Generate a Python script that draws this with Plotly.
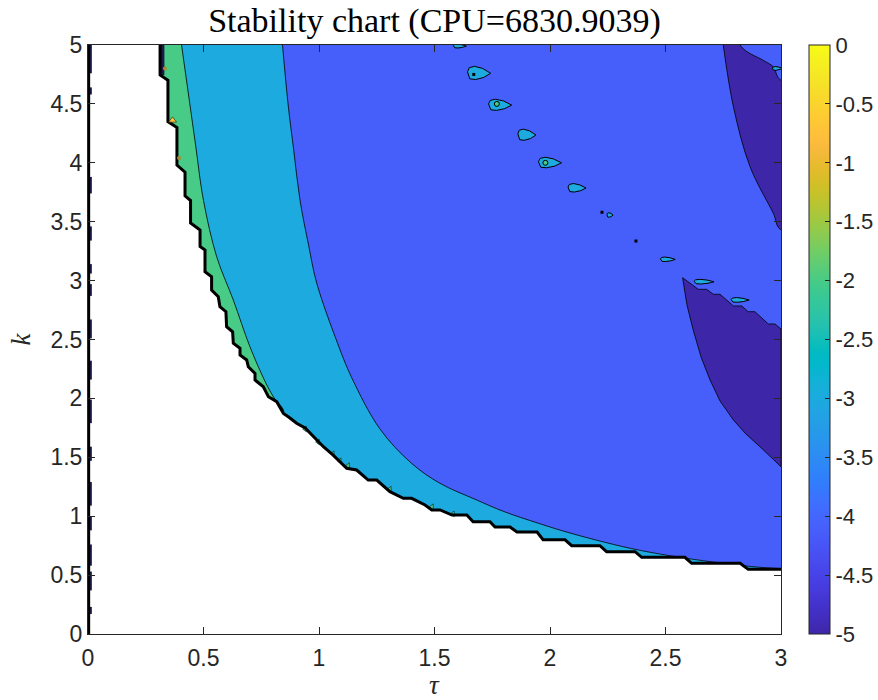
import plotly.graph_objects as go

# ---------------- data ----------------
# stability boundary (edge of the white, unstable area), staircase as drawn
stab_tau = [0.312, 0.312, 0.346, 0.346, 0.385, 0.385, 0.42, 0.42, 0.444, 0.444, 0.485, 0.485,
            0.5065, 0.5065, 0.535, 0.535, 0.564, 0.571, 0.597, 0.600, 0.626, 0.629, 0.658, 0.658,
            0.687, 0.694, 0.723, 0.723, 0.759, 0.781, 0.817, 0.846, 0.87, 0.903, 0.94, 0.975,
            1.019, 1.06, 1.09, 1.12, 1.163, 1.213, 1.25, 1.307, 1.365, 1.401, 1.459, 1.488,
            1.524, 1.576, 1.64, 1.667, 1.74, 1.762, 1.827, 1.857, 1.944, 1.97, 2.065, 2.094,
            2.216, 2.245, 2.368, 2.397, 2.584, 2.613, 2.823, 2.858, 3.0]
stab_k = [5.0, 4.745, 4.70, 4.35, 4.30, 3.98, 3.92, 3.72, 3.68, 3.49, 3.43, 3.29,
          3.26, 3.076, 3.033, 2.92, 2.863, 2.778, 2.736, 2.609, 2.566, 2.468, 2.425, 2.368,
          2.326, 2.269, 2.213, 2.156, 2.099, 2.014, 1.972, 1.873, 1.84, 1.789, 1.75, 1.675,
          1.59, 1.52, 1.46, 1.407, 1.392, 1.307, 1.307, 1.208, 1.152, 1.152, 1.095, 1.053,
          1.053, 1.01, 1.01, 0.953, 0.953, 0.908, 0.908, 0.866, 0.866, 0.80, 0.80, 0.750,
          0.750, 0.699, 0.699, 0.651, 0.651, 0.600, 0.600, 0.549, 0.549]

# contour between the green (-2) and teal (-3) bands
gt_tau = [0.405, 0.463, 0.50, 0.557, 0.629, 0.701, 0.774, 0.81, 0.846]
gt_k = [5.0, 4.19, 3.68, 3.203, 2.835, 2.439, 2.114, 1.99, 1.88]

# contour between the teal (-3) and blue (-4.1) bands
tb_tau = [0.842, 0.866, 0.891, 0.918, 0.955, 0.99, 1.08, 1.143, 1.264, 1.40, 1.524, 1.68,
          1.80, 1.95, 2.10, 2.39, 2.75, 3.0]
tb_k = [5.0, 4.5, 4.1, 3.68, 3.3, 2.98, 2.47, 2.17, 1.74, 1.45, 1.279, 1.14,
        1.04, 0.94, 0.85, 0.71, 0.60, 0.555]

# dark blue (-5) regions
dark1_left_tau = [2.75, 2.794, 2.866, 2.967, 3.0]
dark1_left_k = [5.0, 4.476, 3.967, 3.57, 3.43]
dark1_right_tau = [3.0, 2.966, 2.923, 2.823]
dark1_right_k = [4.70, 4.816, 4.87, 5.0]
dark2_top_tau = [2.574, 2.642, 2.678, 2.707, 2.736, 2.794, 2.83, 2.858, 2.887, 2.945, 2.974, 3.0]
dark2_top_k = [3.025, 2.926, 2.926, 2.884, 2.884, 2.785, 2.785, 2.736, 2.736, 2.632, 2.632, 2.589]
dark2_low_tau = [3.0, 2.957, 2.909, 2.848, 2.794, 2.736, 2.693, 2.654, 2.62, 2.593, 2.574]
dark2_low_k = [1.42, 1.503, 1.59, 1.698, 1.817, 1.978, 2.156, 2.351, 2.58, 2.793, 3.025]

# small teal islands inside the blue band (centre, half width, half height)
isl_tau = [1.61, 1.693, 1.784, 1.90, 2.0, 2.117, 2.26, 2.51, 2.667, 2.823, 2.985]
isl_k = [4.99, 4.76, 4.49, 4.236, 4.0, 3.786, 3.556, 3.18, 2.99, 2.835, 4.80]
isl_hw = [0.028, 0.050, 0.050, 0.039, 0.050, 0.039, 0.013, 0.032, 0.043, 0.039, 0.022]
isl_hh = [0.017, 0.059, 0.050, 0.050, 0.047, 0.038, 0.020, 0.020, 0.021, 0.021, 0.017]

# tiny green loops
loop_tau = [1.77, 1.98]
loop_k = [4.50, 4.00]
# tiny green slivers along the stability boundary
sliv_tau = [0.94, 0.996, 1.06, 1.09, 1.126, 1.307, 1.489, 1.58]
sliv_k = [1.74, 1.63, 1.53, 1.47, 1.43, 1.23, 1.08, 1.02]
# tiny dark specks
speck_tau = [2.225, 2.372, 1.67]
speck_k = [3.58, 3.336, 4.75]

# thin strip at tau = 0 : dark bulges (centre k, half height)
edge_k = [4.88, 4.61, 3.81, 3.40, 3.10, 2.92, 2.59, 2.24, 1.89, 1.53, 1.19, 0.94, 0.67, 0.45, 0.20]
edge_h = [0.12, 0.03, 0.07, 0.06, 0.04, 0.05, 0.08, 0.08, 0.10, 0.06, 0.10, 0.06, 0.09, 0.08, 0.03]

# region levels (colour values on the colour bar)
level_green = -2.0
level_teal = -3.0
level_blue = -4.1
level_dark = -5.0
level_orange = -0.75

x_ticks = [0, 0.5, 1, 1.5, 2, 2.5, 3]
x_labels = ["0", "0.5", "1", "1.5", "2", "2.5", "3"]
y_ticks = [0, 0.5, 1, 1.5, 2, 2.5, 3, 3.5, 4, 4.5, 5]
y_labels = ["0", "0.5", "1", "1.5", "2", "2.5", "3", "3.5", "4", "4.5", "5"]
cb_ticks = [0, -0.5, -1, -1.5, -2, -2.5, -3, -3.5, -4, -4.5, -5]
cb_labels = ["0", "-0.5", "-1", "-1.5", "-2", "-2.5", "-3", "-3.5", "-4", "-4.5", "-5"]
cmin, cmax = -5.0, 0.0
x_range = [0, 3]
y_range = [0, 5]

title_text = "Stability chart (CPU=6830.9039)"

# ---------------- parula colour map ----------------
PARULA = [
    (0.2422, 0.1504, 0.6603), (0.2504, 0.1650, 0.7076), (0.2578, 0.1818, 0.7511), (0.2647, 0.1978, 0.7952),
    (0.2706, 0.2147, 0.8364), (0.2751, 0.2342, 0.8710), (0.2783, 0.2559, 0.8991), (0.2803, 0.2782, 0.9221),
    (0.2813, 0.3006, 0.9414), (0.2810, 0.3228, 0.9579), (0.2795, 0.3447, 0.9717), (0.2760, 0.3667, 0.9829),
    (0.2699, 0.3892, 0.9906), (0.2602, 0.4123, 0.9952), (0.2440, 0.4358, 0.9988), (0.2206, 0.4603, 0.9973),
    (0.1963, 0.4847, 0.9892), (0.1834, 0.5074, 0.9798), (0.1786, 0.5289, 0.9682), (0.1764, 0.5499, 0.9520),
    (0.1687, 0.5703, 0.9359), (0.1540, 0.5902, 0.9218), (0.1460, 0.6091, 0.9079), (0.1380, 0.6276, 0.8973),
    (0.1248, 0.6459, 0.8883), (0.1113, 0.6635, 0.8763), (0.0952, 0.6798, 0.8598), (0.0689, 0.6948, 0.8394),
    (0.0297, 0.7082, 0.8163), (0.0036, 0.7199, 0.7917), (0.0067, 0.7300, 0.7659), (0.0433, 0.7394, 0.7384),
    (0.0964, 0.7500, 0.7120), (0.1408, 0.7584, 0.6842), (0.1717, 0.7670, 0.6554), (0.1938, 0.7758, 0.6251),
    (0.2161, 0.7843, 0.5923), (0.2470, 0.7918, 0.5567), (0.2906, 0.7973, 0.5188), (0.3406, 0.8008, 0.4789),
    (0.3909, 0.8029, 0.4354), (0.4456, 0.8024, 0.3909), (0.5044, 0.7993, 0.3480), (0.5616, 0.7942, 0.3045),
    (0.6174, 0.7876, 0.2612), (0.6720, 0.7793, 0.2227), (0.7242, 0.7698, 0.1910), (0.7738, 0.7598, 0.1646),
    (0.8203, 0.7498, 0.1535), (0.8634, 0.7406, 0.1596), (0.9035, 0.7330, 0.1774), (0.9393, 0.7288, 0.2100),
    (0.9728, 0.7298, 0.2394), (0.9956, 0.7434, 0.2371), (0.9970, 0.7659, 0.2199), (0.9952, 0.7893, 0.2028),
    (0.9892, 0.8136, 0.1885), (0.9786, 0.8386, 0.1766), (0.9676, 0.8639, 0.1643), (0.9610, 0.8890, 0.1537),
    (0.9597, 0.9135, 0.1423), (0.9628, 0.9373, 0.1265), (0.9691, 0.9606, 0.1064), (0.9769, 0.9839, 0.0805),
]


def to_rgb(c):
    return "rgb(%d,%d,%d)" % tuple(round(255 * v) for v in c)


def parula_at(value):
    f = (value - cmin) / (cmax - cmin)
    f = min(max(f, 0.0), 1.0) * (len(PARULA) - 1)
    i = min(int(f), len(PARULA) - 2)
    t = f - i
    a, b = PARULA[i], PARULA[i + 1]
    return to_rgb(tuple(a[j] + (b[j] - a[j]) * t for j in range(3)))


colorscale = [[i / (len(PARULA) - 1), to_rgb(c)] for i, c in enumerate(PARULA)]

c_green = parula_at(level_green)
c_teal = parula_at(level_teal)
c_blue = parula_at(level_blue)
c_dark = parula_at(level_dark)
c_orange = parula_at(level_orange)

EDGE = "rgb(0,0,0)"
AX = "#262626"
NAVY = "#1b1a4a"

# off-plot helpers so polygons can be closed outside the visible area
XO = x_range[1] + 0.4   # beyond the right edge
YO = y_range[1] + 0.4   # beyond the top edge


def poly(xs, ys, fill, lw=0.8, lc=EDGE, shape="linear"):
    return go.Scatter(x=xs, y=ys, mode="lines", fill="toself", fillcolor=fill,
                      line=dict(width=lw, color=lc, shape=shape, smoothing=1.0),
                      hoverinfo="skip", showlegend=False)


fig = go.Figure()

# teal: everything stable (right of the stability boundary)
fig.add_trace(poly(stab_tau + [XO, XO, stab_tau[0]], stab_k + [stab_k[-1], YO, YO], c_teal, lw=0))
# green band
fig.add_trace(poly(gt_tau + [0.2, 0.2, gt_tau[0]], gt_k + [gt_k[-1] - 0.3, YO, YO], c_green, shape="spline"))
# blue band
fig.add_trace(poly(tb_tau + [XO, XO, tb_tau[0]], tb_k + [tb_k[-1], YO, YO], c_blue, shape="spline"))
# dark blue regions
fig.add_trace(poly(dark1_left_tau + [XO, XO] + dark1_right_tau + [dark1_right_tau[-1] - 0.02, dark1_left_tau[0]],
                   dark1_left_k + [dark1_left_k[-1] - 0.1, dark1_right_k[0] - 0.1] + dark1_right_k + [YO, YO],
                   c_dark, shape="spline"))
fig.add_trace(poly(dark2_top_tau + dark2_low_tau, dark2_top_k + dark2_low_k, c_dark))

# teal islands (teardrop outline scaled around each centre)
tpl_u = [-1.0, -0.85, -0.4, 0.3, 1.0, 0.4, -0.3, -0.8, -1.0]
tpl_v = [0.2, 0.8, 1.0, 0.7, 0.0, -0.6, -0.9, -0.8, 0.2]
ix, iy = [], []
for cx, cy, hw, hh in zip(isl_tau, isl_k, isl_hw, isl_hh):
    ix += [cx + u * hw for u in tpl_u] + [None]
    iy += [cy + v * hh for v in tpl_v] + [None]
fig.add_trace(poly(ix, iy, c_teal, lw=1.0))

fig.add_trace(go.Scatter(x=loop_tau, y=loop_k, mode="markers",
                         marker=dict(symbol="circle", size=5, color=c_green, line=dict(width=1, color=EDGE)),
                         hoverinfo="skip", showlegend=False))
fig.add_trace(go.Scatter(x=speck_tau, y=speck_k, mode="markers",
                         marker=dict(symbol="square", size=3, color=EDGE),
                         hoverinfo="skip", showlegend=False))

# white unstable area
fig.add_trace(poly(stab_tau + [XO, XO, -0.2, -0.2, stab_tau[0]],
                   stab_k + [stab_k[-1], -0.2, -0.2, YO, YO], "white", lw=0))

# green slivers along the boundary
fig.add_trace(go.Scatter(x=sliv_tau, y=sliv_k, mode="markers",
                         marker=dict(symbol="triangle-left", size=5, color=c_green, line=dict(width=0.5, color=EDGE)),
                         hoverinfo="skip", showlegend=False))

# dark strip near the top of the boundary
fig.add_trace(go.Scatter(x=[stab_tau[0] + 0.01, stab_tau[1] + 0.01], y=[stab_k[0], stab_k[1]], mode="lines",
                         line=dict(width=4, color=NAVY), hoverinfo="skip", showlegend=False))

# stability boundary
fig.add_trace(go.Scatter(x=stab_tau, y=stab_k, mode="lines", line=dict(width=3, color=EDGE),
                         hoverinfo="skip", showlegend=False))

# orange speck and brownish dots
fig.add_trace(go.Scatter(x=[0.366], y=[4.36], mode="markers",
                         marker=dict(symbol="triangle-up", size=7, color=c_orange, line=dict(width=0.5, color=EDGE)),
                         hoverinfo="skip", showlegend=False))
fig.add_trace(go.Scatter(x=[0.333, 0.394], y=[4.80, 4.04], mode="markers",
                         marker=dict(symbol="circle", size=4, color="#a8892f"),
                         hoverinfo="skip", showlegend=False))

# strip at tau = 0
ex, ey = [], []
for kc, h in zip(edge_k, edge_h):
    ex += [0.008, 0.008, None]
    ey += [kc - h, kc + h, None]
fig.add_trace(go.Scatter(x=ex, y=ey, mode="lines", line=dict(width=4, color=NAVY),
                         hoverinfo="skip", showlegend=False))
fig.add_trace(go.Scatter(x=[0.004, 0.004], y=[0.0, 5.0], mode="lines", line=dict(width=2.5, color=EDGE),
                         hoverinfo="skip", showlegend=False))

# colour bar carrier
fig.add_trace(go.Scatter(
    x=[-1], y=[-1], mode="markers", hoverinfo="skip", showlegend=False,
    marker=dict(color=[cmin], cmin=cmin, cmax=cmax, colorscale=colorscale, showscale=True, size=1,
                colorbar=dict(thickness=21, len=1, lenmode="fraction", y=0, yanchor="bottom",
                              x=1.0404, xanchor="left", xpad=0, ypad=0,
                              outlinewidth=1, outlinecolor=AX,
                              ticks="inside", ticklen=5, tickcolor=AX,
                              tickvals=cb_ticks, ticktext=cb_labels,
                              tickfont=dict(family="Liberation Sans, Arial, sans-serif", size=22, color=AX)))))

axis_common = dict(showgrid=False, zeroline=False, showline=True, linecolor=AX, linewidth=1,
                   ticks="inside", ticklen=7, tickcolor=AX, mirror="ticks",
                   tickfont=dict(family="Liberation Sans, Arial, sans-serif", size=23, color=AX),
                   fixedrange=True)

fig.update_layout(
    width=878, height=700,
    margin=dict(l=88, r=97, t=45, b=66, autoexpand=False),
    paper_bgcolor="white", plot_bgcolor="white",
    xaxis=dict(range=x_range, tickvals=x_ticks, ticktext=x_labels, ticklabelstandoff=3, **axis_common),
    yaxis=dict(range=y_range, tickvals=y_ticks, ticktext=y_labels, **axis_common),
    title=dict(text=title_text, x=0.5, xref="paper", xanchor="center",
               y=1 - 20 / 700, yref="container", yanchor="middle",
               font=dict(family="Liberation Serif, Times New Roman, serif", size=34, color="black")),
    annotations=[
        dict(text="<i>τ</i>", x=0.5, y=-0.0866, xref="paper", yref="paper", showarrow=False,
             xanchor="center", yanchor="middle",
             font=dict(family="Liberation Serif, serif", size=27, color=AX)),
        dict(text="<i>k</i>", x=-0.098, y=0.5, xref="paper", yref="paper", showarrow=False,
             xanchor="center", yanchor="middle", textangle=-90,
             font=dict(family="Liberation Serif, serif", size=27, color=AX)),
    ],
)

fig.write_html("out.html", config={"displayModeBar": False},
               post_script="document.body.style.margin='0';")
